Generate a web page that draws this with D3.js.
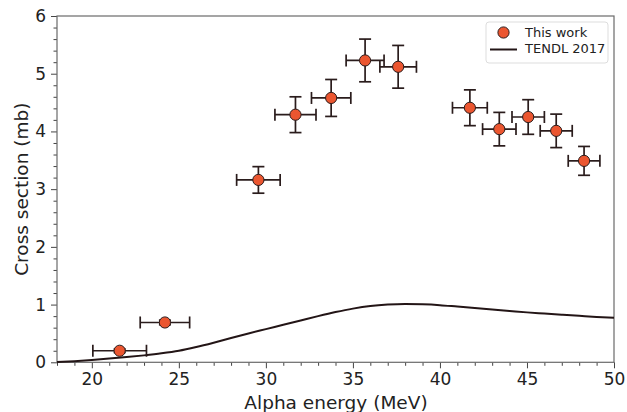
<!DOCTYPE html>
<html><head><meta charset="utf-8">
<script src="https://cdn.jsdelivr.net/npm/d3@7"></script>
<style>body{margin:0;background:#fff}svg{display:block}text{font-family:"DejaVu Sans",sans-serif}</style>
</head><body><svg id="c" width="627" height="412"></svg>
<script>
const energy = [21.6, 24.2, 29.57, 31.7, 33.75, 35.7, 37.6, 41.72, 43.41, 45.07, 46.68, 48.28];
const energyErr = [1.54, 1.42, 1.25, 1.18, 1.13, 1.09, 1.05, 1.0, 0.96, 0.93, 0.92, 0.91];
const xs = [0.20, 0.69, 3.16, 4.29, 4.58, 5.23, 5.12, 4.41, 4.04, 4.25, 4.01, 3.49];
const xsErr = [0.03, 0.04, 0.23, 0.31, 0.32, 0.37, 0.37, 0.31, 0.29, 0.30, 0.29, 0.25];
const tendlE = [18, 19, 20, 21, 22, 23, 24, 25, 26, 27, 28, 29, 30, 31, 32, 33, 34, 35, 36, 37, 38, 39, 40, 41, 42, 43, 44, 45, 46, 47, 48, 49, 50];
const tendlXs = [0.005, 0.02, 0.04, 0.065, 0.09, 0.12, 0.155, 0.2, 0.265, 0.34, 0.42, 0.5, 0.575, 0.65, 0.725, 0.8, 0.87, 0.93, 0.975, 1.0, 1.01, 1.005, 0.99, 0.965, 0.94, 0.915, 0.89, 0.865, 0.845, 0.825, 0.805, 0.785, 0.77];
const xTicks = [20, 25, 30, 35, 40, 45, 50];
const yTicks = [0, 1, 2, 3, 4, 5, 6];
const legendLabels = ["This work", "TENDL 2017"];

const svg = d3.select("#c");
const L = 57, R = 614, T = 16, B = 362.3;
const x = d3.scaleLinear().domain([18, 50]).range([L, R]);
const y = d3.scaleLinear().domain([0, 6]).range([B, T]);
const dark = "#2a1c1c", fill = "#EB5630";

const xMinor = d3.range(18, 51, 1).filter(v => !xTicks.includes(v));
const yMinor = d3.range(0, 6.01, 0.2).map(v => +v.toFixed(1)).filter(v => !yTicks.includes(v));

const xAx = svg.append("g").attr("transform", `translate(0,${B})`)
  .call(d3.axisBottom(x).tickValues(xTicks).tickSize(6).tickPadding(5).tickFormat(d3.format("d")));
const xAxM = svg.append("g").attr("transform", `translate(0,${B})`)
  .call(d3.axisBottom(x).tickValues(xMinor).tickSize(3.5).tickFormat(""));
const yAx = svg.append("g").attr("transform", `translate(${L},0)`)
  .call(d3.axisLeft(y).tickValues(yTicks).tickSize(6).tickPadding(5).tickFormat(d3.format("d")));
const yAxM = svg.append("g").attr("transform", `translate(${L},0)`)
  .call(d3.axisLeft(y).tickValues(yMinor).tickSize(3.5).tickFormat(""));
[xAx, xAxM, yAx, yAxM].forEach(g => {
  g.select(".domain").remove();
  g.selectAll("line").attr("stroke", "#444").attr("stroke-width", 1);
  g.selectAll("text").attr("fill", "#222").style("font-size", "17px");
});

svg.append("rect").attr("x", L).attr("y", T).attr("width", R - L).attr("height", B - T)
  .attr("fill", "none").attr("stroke", "#6a6a6a").attr("stroke-width", 1.2);

const line = d3.line().x(d => x(d)).y((d, i) => y(tendlXs[i])).curve(d3.curveMonotoneX);
svg.append("path").datum(tendlE).attr("d", line).attr("fill", "none").attr("stroke", "#231516").attr("stroke-width", 2);

const cap = 6;
const g = svg.append("g");
energy.forEach((e, i) => {
  const cx = x(e), cy = y(xs[i]);
  const x0 = x(e - energyErr[i]), x1 = x(e + energyErr[i]);
  const y0 = y(xs[i] - xsErr[i]), y1 = y(xs[i] + xsErr[i]);
  const ln = (a, b, c, d) => g.append("line").attr("x1", a).attr("y1", b).attr("x2", c).attr("y2", d)
    .attr("stroke", dark).attr("stroke-width", 1.7);
  ln(x0, cy, x1, cy);
  ln(cx, y0, cx, y1);
  ln(x0, cy - cap, x0, cy + cap);
  ln(x1, cy - cap, x1, cy + cap);
  ln(cx - cap, y0, cx + cap, y0);
  ln(cx - cap, y1, cx + cap, y1);
});
svg.append("g").selectAll("circle").data(energy).join("circle")
  .attr("cx", d => x(d)).attr("cy", (d, i) => y(xs[i])).attr("r", 5.6)
  .attr("fill", fill).attr("stroke", dark).attr("stroke-width", 1);

const lg = svg.append("g");
lg.append("rect").attr("x", 486).attr("y", 22).attr("width", 122).attr("height", 41).attr("rx", 3)
  .attr("fill", "#fff").attr("fill-opacity", 0.8).attr("stroke", "#ddd");
lg.append("circle").attr("cx", 503.5).attr("cy", 32.5).attr("r", 5.6).attr("fill", fill).attr("stroke", dark);
lg.append("line").attr("x1", 490).attr("x2", 517).attr("y1", 49.5).attr("y2", 49.5).attr("stroke", "#231516").attr("stroke-width", 2);
lg.selectAll("text").data(legendLabels).join("text")
  .attr("x", 525).attr("y", (d, i) => 36.8 + i * 16.6).text(d => d)
  .style("font-size", "13px").attr("fill", "#222");

svg.append("text").attr("x", (L + R) / 2 + 0.5).attr("y", 409).attr("text-anchor", "middle")
  .style("font-size", "18.5px").attr("fill", "#222").text("Alpha energy (MeV)");
svg.append("text").attr("transform", `translate(27.5,${(T + B) / 2}) rotate(-90)`).attr("text-anchor", "middle")
  .style("font-size", "18.5px").attr("fill", "#222").text("Cross section (mb)");
</script></body></html>
